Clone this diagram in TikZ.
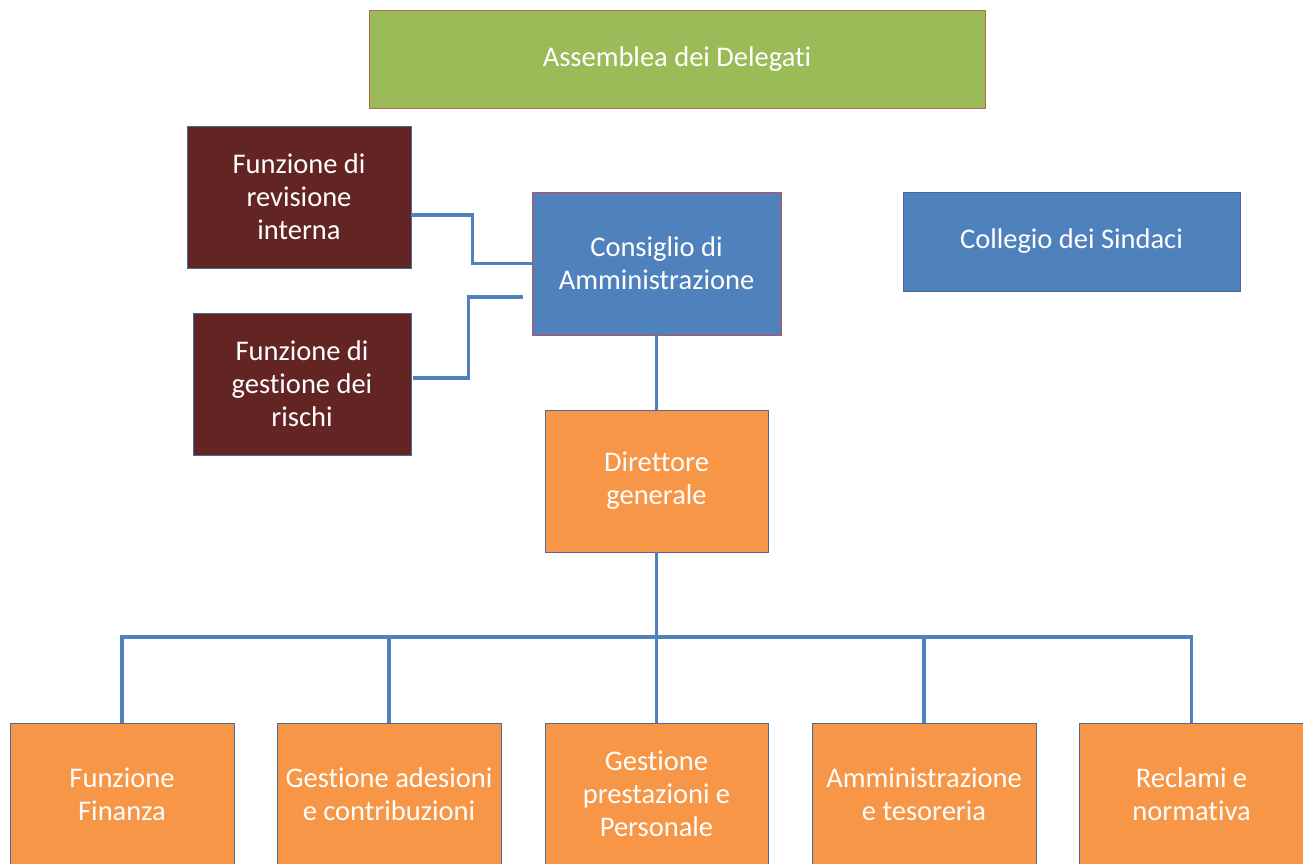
\documentclass[tikz,border=0pt]{standalone}
\usepackage{fontspec}
\setmainfont[Ligatures=NoCommon]{Carlito}
\definecolor{cgreen}{HTML}{9BBB59}
\definecolor{cdark}{HTML}{632523}
\definecolor{cblue}{HTML}{4F81BD}
\definecolor{corange}{HTML}{F79646}
\definecolor{cedge}{HTML}{4A6A94}
\definecolor{credge}{HTML}{C0504D}
\definecolor{cbrown}{HTML}{B06A46}
\begin{document}
\begin{tikzpicture}[x=1pt,y=1pt,
  box/.style={rectangle,draw=cedge,line width=0.9pt,inner sep=0pt,align=center,text=white,
    font=\fontsize{28.5}{33}\selectfont},
  conn/.style={draw=cblue,line width=3.2pt}]
\useasboundingbox (0,0) rectangle (1303,-863);
\node[box,fill=cgreen,draw=cbrown,minimum width=616,minimum height=98] (ass) at (677,-59) {Assemblea dei Delegati};
\node[box,fill=cdark,minimum width=224,minimum height=142] (rev) at (299,-197) {Funzione di\\revisione\\interna};
\node[box,fill=cdark,minimum width=218,minimum height=142] (ris) at (302,-384) {Funzione di\\gestione dei\\rischi};
\node[box,fill=cblue,draw=credge,minimum width=249,minimum height=143] (cda) at (656.5,-263.5) {Consiglio di\\Amministrazione};
\node[box,fill=cblue,minimum width=337,minimum height=99] (col) at (1071.5,-241.5) {Collegio dei Sindaci};
\node[box,fill=corange,minimum width=223,minimum height=142] (dg) at (656.5,-481) {Direttore\\generale};
\node[box,fill=corange,minimum width=224,minimum height=142] (b1) at (122,-794) {Funzione\\Finanza};
\node[box,fill=corange,minimum width=224,minimum height=142] (b2) at (389,-794) {Gestione adesioni\\e contribuzioni};
\node[box,fill=corange,minimum width=223,minimum height=142] (b3) at (656.5,-794) {Gestione\\prestazioni e\\Personale};
\node[box,fill=corange,minimum width=224,minimum height=142] (b4) at (924,-794) {Amministrazione\\e tesoreria};
\node[box,fill=corange,minimum width=224,minimum height=142] (b5) at (1191.5,-794) {Reclami e\\normativa};
\coordinate (bus) at (656.5,-637);
\draw[conn] ([yshift=-18pt]rev.east) -- ++(61,0) |- (cda.west);
\draw[conn] ([xshift=2pt,yshift=6pt]ris.east) -- ++(55,0) |- ([xshift=-9pt,yshift=-33.5pt]cda.west);
\draw[conn] (cda.south) -- (dg.north);
\draw[conn] (dg.south) -- (bus);
\draw[conn] (b1.north) |- (bus) -| (b5.north);
\draw[conn] (b2.north) -- (b2.north |- bus);
\draw[conn] (b3.north) -- (bus);
\draw[conn] (b4.north) -- (b4.north |- bus);
\end{tikzpicture}
\end{document}
